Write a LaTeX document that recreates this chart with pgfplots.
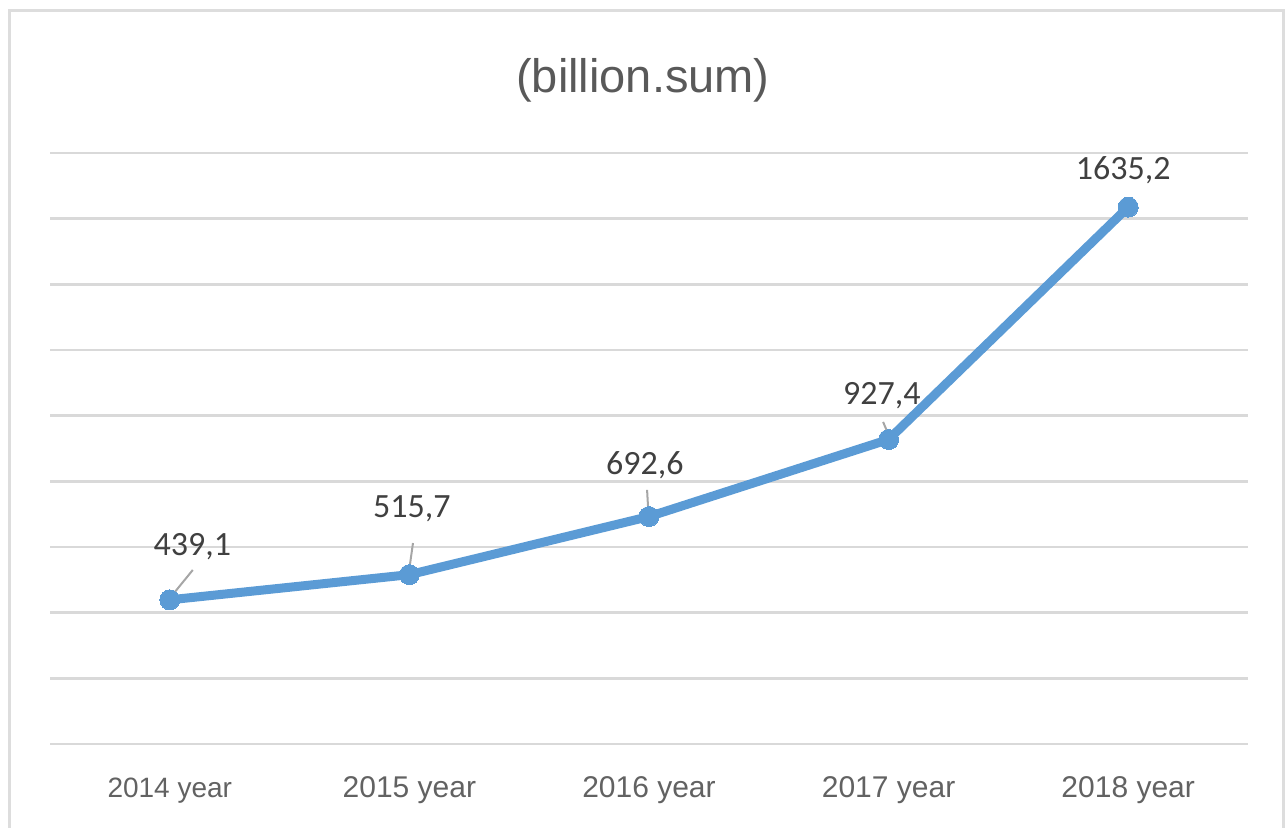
\documentclass[border=0pt]{standalone}
\usepackage{fontspec}
\setmainfont{Liberation Sans}
\newfontfamily\calib{Carlito}
\usepackage{pgfplots}
\pgfplotsset{compat=1.18}
\definecolor{lineblue}{HTML}{5B9BD5}
\definecolor{gridgray}{HTML}{D9D9D9}
\definecolor{ticktext}{HTML}{626262}
\definecolor{titletext}{HTML}{595959}
\definecolor{labeltext}{HTML}{404040}
\definecolor{leader}{HTML}{A6A6A6}
\definecolor{framegray}{HTML}{DDDDDD}
\begin{document}
\begin{tikzpicture}
\useasboundingbox (0,0) rectangle (643.5pt,414pt);
\draw[framegray, line width=1.5pt] (4.5pt,-2pt) -- (4.5pt,408.5pt) -- (641.5pt,408.5pt) -- (641.5pt,-2pt);
\node[anchor=base, text=titletext, font=\fontsize{23.5}{27}\selectfont] at (321.5pt,367.5pt) {(billion.sum)};
\begin{axis}[
  at={(25pt,42pt)}, anchor=south west,
  width=599pt, height=295.5pt, scale only axis,
  xmin=-0.5, xmax=4.5, ymin=0, ymax=1800,
  xtick={0,1,2,3,4},
  xticklabels={{\fontsize{14}{16}\selectfont 2014 year},2015 year,2016 year,2017 year,2018 year},
  xticklabel style={anchor=base, yshift=-27pt, text=ticktext, font=\fontsize{15}{18}\selectfont},
  ytick={0,200,...,1800},
  yticklabels={},
  ymajorgrids,
  grid style={gridgray, line width=1.3pt},
  major tick length=0pt,
  axis line style={draw=none},
  clip=false,
]
\addplot[lineblue, line width=4.5pt, mark=*, mark size=5pt, mark options={fill=lineblue, draw=lineblue, line width=0pt}]
  coordinates {(0,439.1) (1,515.7) (2,692.6) (3,927.4) (4,1635.2)};
\draw[leader, line width=1pt] (axis cs:0.096,530) -- (axis cs:0.02,462);
\draw[leader, line width=1pt] (axis cs:1.015,612) -- (axis cs:1.002,545);
\draw[leader, line width=1pt] (axis cs:1.992,774) -- (axis cs:1.996,722);
\draw[leader, line width=1pt] (axis cs:2.977,981) -- (axis cs:2.995,950);
\begin{scope}[every node/.style={anchor=base, text=labeltext, font=\calib\fontsize{17}{20}\selectfont}]
\node at (axis cs:0.094,575.6) {439,1};
\node at (axis cs:1.010,688.3) {515,7};
\node at (axis cs:1.983,819.3) {692,6};
\node at (axis cs:2.972,1032.5) {927,4};
\node at (axis cs:3.979,1717.8) {1635,2};
\end{scope}
\end{axis}
\end{tikzpicture}
\end{document}
